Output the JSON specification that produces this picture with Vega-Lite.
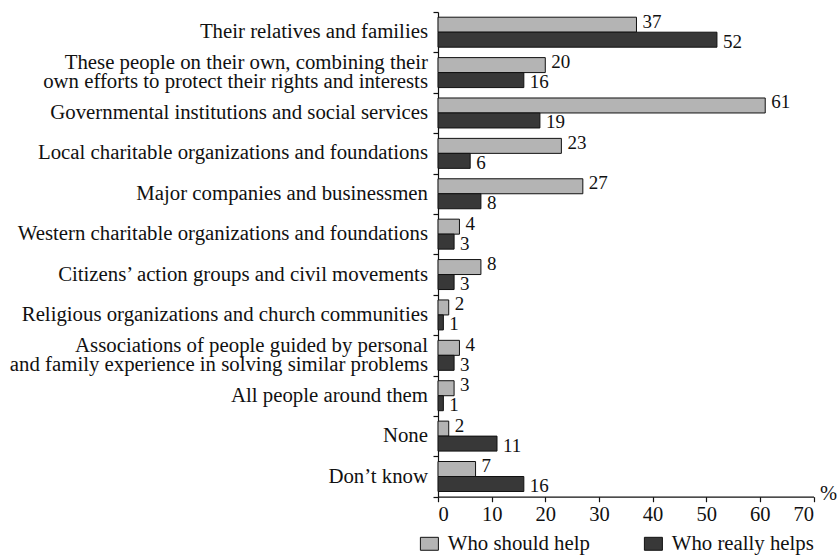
{
  "$schema": "https://vega.github.io/schema/vega-lite/v6.json",
  "autosize": {"type": "none"},
  "padding": {"left": 438, "top": 12, "right": 26.5, "bottom": 60.3},
  "width": 375.5,
  "height": 484.7,
  "background": "white",
  "config": {
    "view": {"stroke": null},
    "font": "Liberation Serif",
    "text": {"font": "Liberation Serif"},
    "axis": {"domainColor": "#111", "tickColor": "#111", "labelColor": "#111", "titleColor": "#111", "labelFont": "Liberation Serif", "titleFont": "Liberation Serif", "grid": false, "domainWidth": 1.2, "tickWidth": 1.2},
    "legend": {"labelFont": "Liberation Serif", "labelColor": "#111"}
  },
  "data": {
    "values": [
      {"category": "Their relatives and families", "series": "Who should help", "value": 37},
      {"category": "Their relatives and families", "series": "Who really helps", "value": 52},
      {"category": "These people on their own, combining their|own efforts to protect their rights and interests", "series": "Who should help", "value": 20},
      {"category": "These people on their own, combining their|own efforts to protect their rights and interests", "series": "Who really helps", "value": 16},
      {"category": "Governmental institutions and social services", "series": "Who should help", "value": 61},
      {"category": "Governmental institutions and social services", "series": "Who really helps", "value": 19},
      {"category": "Local charitable organizations and foundations", "series": "Who should help", "value": 23},
      {"category": "Local charitable organizations and foundations", "series": "Who really helps", "value": 6},
      {"category": "Major companies and businessmen", "series": "Who should help", "value": 27},
      {"category": "Major companies and businessmen", "series": "Who really helps", "value": 8},
      {"category": "Western charitable organizations and foundations", "series": "Who should help", "value": 4},
      {"category": "Western charitable organizations and foundations", "series": "Who really helps", "value": 3},
      {"category": "Citizens’ action groups and civil movements", "series": "Who should help", "value": 8},
      {"category": "Citizens’ action groups and civil movements", "series": "Who really helps", "value": 3},
      {"category": "Religious organizations and church communities", "series": "Who should help", "value": 2},
      {"category": "Religious organizations and church communities", "series": "Who really helps", "value": 1},
      {"category": "Associations of people guided by personal|and family experience in solving similar problems", "series": "Who should help", "value": 4},
      {"category": "Associations of people guided by personal|and family experience in solving similar problems", "series": "Who really helps", "value": 3},
      {"category": "All people around them", "series": "Who should help", "value": 3},
      {"category": "All people around them", "series": "Who really helps", "value": 1},
      {"category": "None", "series": "Who should help", "value": 2},
      {"category": "None", "series": "Who really helps", "value": 11},
      {"category": "Don’t know", "series": "Who should help", "value": 7},
      {"category": "Don’t know", "series": "Who really helps", "value": 16}
    ]
  },
  "encoding": {
    "y": {
      "field": "category", "type": "nominal", "sort": null,
      "scale": {"paddingInner": 0, "paddingOuter": 0},
      "axis": {"title": null, "tickBand": "extent", "tickSize": 5, "labels": false}
    },
    "x": {
      "field": "value", "type": "quantitative",
      "scale": {"domain": [0, 70], "nice": false},
      "axis": {
        "values": [0, 10, 20, 30, 40, 50, 60, 70], "tickSize": 5, "labelPadding": 3,
        "labelFontSize": 20.5, "title": "%", "titleFontSize": 20.5, "titleFontWeight": "normal",
        "titleAnchor": "end", "titleAlign": "center", "titleBaseline": "middle",
        "titleX": 390, "titleY": -3
      }
    }
  },
  "layer": [
    {
      "mark": {"type": "bar", "stroke": "#111", "strokeWidth": 1},
      "encoding": {
        "yOffset": {
          "field": "series", "type": "nominal",
          "sort": ["Who should help", "Who really helps"],
          "scale": {"paddingOuter": 0.347, "paddingInner": 0}
        },
        "fill": {
          "field": "series", "type": "nominal",
          "scale": {"domain": ["Who should help", "Who really helps"], "range": ["#b4b4b4", "#383838"]},
          "legend": {
            "title": null, "orient": "none", "direction": "horizontal",
            "legendX": -19, "legendY": 521,
            "labelFontSize": 20.8, "labelOffset": 8, "columnPadding": 52, "labelLimit": 300,
            "symbolType": "M-1,-0.72H1V0.72H-1Z", "symbolSize": 324,
            "symbolStrokeColor": "#111", "symbolStrokeWidth": 1, "symbolOpacity": 1
          }
        }
      }
    },
    {
      "transform": [{"filter": "datum.series == 'Who should help'"}],
      "mark": {"type": "text", "align": "left", "baseline": "middle", "dx": 6, "dy": -3, "fontSize": 19, "color": "#111"},
      "encoding": {
        "yOffset": {"field": "series", "type": "nominal", "sort": ["Who should help", "Who really helps"]},
        "text": {"field": "value", "type": "quantitative"}
      }
    },
    {
      "transform": [{"filter": "datum.series == 'Who really helps'"}],
      "mark": {"type": "text", "align": "left", "baseline": "middle", "dx": 6, "dy": 2, "fontSize": 19, "color": "#111"},
      "encoding": {
        "yOffset": {"field": "series", "type": "nominal", "sort": ["Who should help", "Who really helps"]},
        "text": {"field": "value", "type": "quantitative"}
      }
    },
    {
      "transform": [{"filter": "datum.series == 'Who should help' && indexof(datum.category, '|') < 0"}],
      "mark": {"type": "text", "align": "right", "baseline": "middle", "dx": -10, "fontSize": 20.8, "color": "#111"},
      "encoding": {
        "x": {"datum": 0},
        "text": {"field": "category", "type": "nominal"}
      }
    },
    {
      "transform": [{"filter": "datum.series == 'Who should help' && indexof(datum.category, '|') >= 0"}],
      "mark": {"type": "text", "align": "right", "baseline": "middle", "dx": -10, "dy": -9.25, "fontSize": 20.8, "lineHeight": 18.5, "lineBreak": "|", "color": "#111"},
      "encoding": {
        "x": {"datum": 0},
        "text": {"field": "category", "type": "nominal"}
      }
    }
  ]
}
